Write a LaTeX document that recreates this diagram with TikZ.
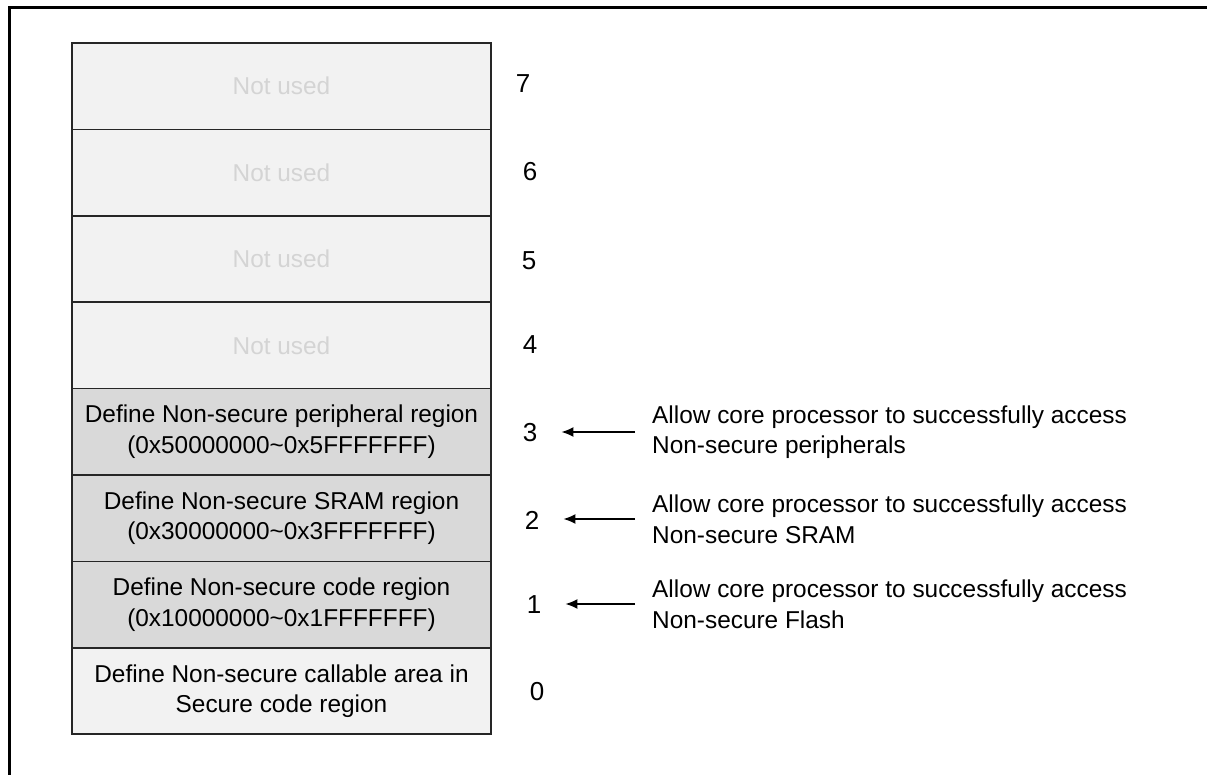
\documentclass[tikz,border=0pt]{standalone}
\usepackage{fontspec}
\setmainfont{Liberation Sans}
\usetikzlibrary{positioning}
\usetikzlibrary{arrows.meta}

\definecolor{unusedfill}{HTML}{F2F2F2}
\definecolor{unusedtext}{HTML}{D4D4D4}
\definecolor{nsfill}{HTML}{D9D9D9}

\begin{document}
\begin{tikzpicture}[x=1pt, y=-1pt]
  \tikzstyle{region}=[draw = black!85, line width = 1.5pt, minimum width = 419pt, minimum height = 86.4pt, inner sep = 0pt, align = center, font = \fontsize{24.4}{30.6}\selectfont]
  \tikzstyle{unused}=[region, fill = unusedfill, text = unusedtext]
  \tikzstyle{nsregion}=[region, fill = nsfill]
  \tikzstyle{secregion}=[region, fill = unusedfill]
  \tikzstyle{index}=[inner sep = 0pt, font = \fontsize{26}{30}\selectfont]
  \tikzstyle{note}=[anchor = west, inner sep = 0pt, align = left, font = \fontsize{24.4}{30.6}\selectfont]
  \tikzstyle{pointer}=[-{Latex[length = 12pt, width = 10pt]}, line width = 1.6pt, shorten < = 17pt, shorten > = 24pt]

  \useasboundingbox (0,0) rectangle (1207,775);
  \draw[line width = 2.6pt] (9.5,780) -- (9.5,7.5) -- (1210,7.5);

  \foreach \n/\y in {7/86.2, 6/172.6, 5/259, 4/345.4}
    \node[unused] (r\n) at (281.5, \y) {Not used};
  \node[nsregion] (r3) at (281.5, 431.8) {Define Non-secure peripheral region\\(0x50000000\textasciitilde 0x5FFFFFFF)};
  \node[nsregion] (r2) at (281.5, 518.2) {Define Non-secure SRAM region\\(0x30000000\textasciitilde 0x3FFFFFFF)};
  \node[nsregion] (r1) at (281.5, 604.6) {Define Non-secure code region\\(0x10000000\textasciitilde 0x1FFFFFFF)};
  \node[secregion] (r0) at (281.5, 691) {Define Non-secure callable area in\\Secure code region};

  \foreach \n/\x/\y in {7/523/84, 6/530/172, 5/529/261, 4/530/345, 3/530/433, 2/532/520, 1/534/605, 0/537/692}
    \node[index] (i\n) at (\x, \y) {\n};

  \node[note] (n3) at (652, 432) {Allow core processor to successfully access\\Non-secure peripherals};
  \node[note] (n2) at (652, 519) {Allow core processor to successfully access\\Non-secure SRAM};
  \node[note] (n1) at (652, 604) {Allow core processor to successfully access\\Non-secure Flash};

  \foreach \n in {1, 2, 3}
    \draw[pointer] (n\n.west) -- (i\n.east |- n\n.west);
\end{tikzpicture}
\end{document}
